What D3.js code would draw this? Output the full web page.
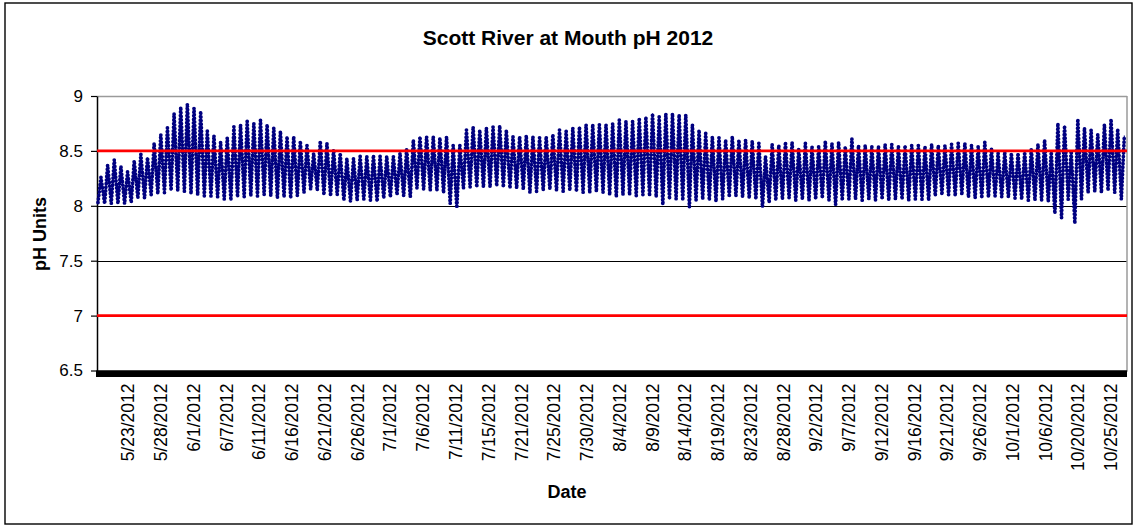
<!DOCTYPE html>
<html>
<head>
<meta charset="utf-8">
<script src="https://cdn.jsdelivr.net/npm/d3@7"></script>
<style>
  body { margin: 0; background: #fff; }
  svg { display: block; }
  text { font-family: "Liberation Sans", Arial, sans-serif; fill: #000; }
</style>
</head>
<body>
<svg id="chart" width="1135" height="525"></svg>
<script>
// Daily pH extremes, Scott River at Mouth, 2012 (one entry per logged day)
const dailyHigh = [
  8.26, 8.37, 8.42, 8.36, 8.31, 8.41, 8.47, 8.44, 8.57, 8.65, 8.71, 8.84, 8.90, 8.93, 8.89, 8.86,
  8.68, 8.64, 8.58, 8.62, 8.72, 8.74, 8.77, 8.75, 8.78, 8.74, 8.71, 8.68, 8.63, 8.63, 8.59,
  8.55, 8.48, 8.59, 8.57, 8.51, 8.48, 8.43, 8.43, 8.45, 8.45, 8.46, 8.45, 8.45, 8.45, 8.48, 8.52, 8.60,
  8.63, 8.63, 8.63, 8.62, 8.63, 8.55, 8.55, 8.69, 8.72, 8.69, 8.71, 8.72, 8.73, 8.69, 8.63,
  8.63, 8.64, 8.63, 8.62, 8.63, 8.65, 8.69, 8.68, 8.71, 8.72, 8.74, 8.74, 8.74, 8.74, 8.75, 8.78,
  8.77, 8.77, 8.80, 8.81, 8.84, 8.81, 8.84, 8.84, 8.83, 8.83, 8.74, 8.69, 8.66, 8.63, 8.62, 8.60,
  8.63, 8.60, 8.60, 8.59, 8.57, 8.45, 8.56, 8.55, 8.58, 8.58, 8.52, 8.57, 8.54, 8.54, 8.59,
  8.57, 8.58, 8.54, 8.61, 8.55, 8.55, 8.54, 8.54, 8.56, 8.56, 8.54, 8.55, 8.55, 8.55, 8.54, 8.56,
  8.55, 8.55, 8.56, 8.57, 8.57, 8.55, 8.54, 8.58, 8.52, 8.48, 8.49, 8.48, 8.48, 8.49, 8.52, 8.56,
  8.60, 8.49, 8.75, 8.73, 8.50, 8.79, 8.71, 8.69, 8.65, 8.74, 8.79, 8.70, 8.64
];
const dailyLow = [
  8.03, 8.02, 8.02, 8.02, 8.02, 8.03, 8.07, 8.07, 8.10, 8.11, 8.12, 8.14, 8.14, 8.13, 8.11, 8.10,
  8.09, 8.09, 8.08, 8.06, 8.05, 8.08, 8.08, 8.09, 8.09, 8.10, 8.09, 8.07, 8.08, 8.07, 8.09,
  8.12, 8.15, 8.14, 8.10, 8.09, 8.10, 8.05, 8.04, 8.05, 8.06, 8.05, 8.04, 8.07, 8.08, 8.10, 8.09, 8.08,
  8.16, 8.15, 8.14, 8.14, 8.12, 8.02, 7.98, 8.16, 8.17, 8.17, 8.17, 8.17, 8.18, 8.17, 8.16,
  8.16, 8.15, 8.12, 8.13, 8.14, 8.15, 8.14, 8.13, 8.14, 8.13, 8.12, 8.12, 8.13, 8.12, 8.10, 8.08,
  8.10, 8.10, 8.09, 8.10, 8.09, 8.08, 8.01, 8.06, 8.06, 8.05, 7.99, 8.05, 8.06, 8.05, 8.04, 8.06,
  8.08, 8.09, 8.08, 8.07, 8.06, 7.99, 8.03, 8.05, 8.06, 8.07, 8.05, 8.06, 8.05, 8.06, 8.07,
  8.05, 8.01, 8.05, 8.06, 8.06, 8.05, 8.06, 8.05, 8.06, 8.05, 8.06, 8.06, 8.05, 8.06, 8.06, 8.05,
  8.09, 8.10, 8.10, 8.09, 8.10, 8.08, 8.07, 8.07, 8.08, 8.09, 8.08, 8.08, 8.07, 8.06, 8.05, 8.05,
  8.05, 8.04, 7.93, 7.89, 8.06, 7.84, 8.06, 8.12, 8.13, 8.12, 8.14, 8.12, 8.06
];
const tickLabels = [
  "5/23/2012", "5/28/2012", "6/1/2012", "6/7/2012", "6/11/2012", "6/16/2012", "6/21/2012",
  "6/26/2012", "7/1/2012", "7/6/2012", "7/11/2012", "7/15/2012", "7/21/2012", "7/25/2012",
  "7/30/2012", "8/4/2012", "8/9/2012", "8/14/2012", "8/19/2012", "8/23/2012", "8/28/2012",
  "9/2/2012", "9/7/2012", "9/12/2012", "9/16/2012", "9/21/2012", "9/26/2012", "10/1/2012",
  "10/6/2012", "10/20/2012", "10/25/2012"
];
const yTickValues = [6.5, 7, 7.5, 8, 8.5, 9];
const standardLimits = [7.0, 8.5];

// Category axis settings: a label every fixed number of readings
const firstLabelDay = 4.6;
const labelEveryDays = 4.93;
// Time of day (fraction) of the morning low and afternoon high
const lowAt = 0.15, highAt = 0.6;

const svg = d3.select("#chart");
const plot = { left: 97, right: 1127, top: 96, bottom: 370.5 };

const x = d3.scaleLinear().domain([0, dailyHigh.length]).range([plot.left, plot.right]);
const y = d3.scaleLinear().domain([6.5, 9]).range([plot.bottom, plot.top]);

// Outer chart frame
svg.append("rect").attr("x", 5).attr("y", 3).attr("width", 1127).attr("height", 521)
  .attr("fill", "#fff").attr("stroke", "#000").attr("stroke-width", 1.4);

// Title and axis titles
svg.append("text").attr("x", 568).attr("y", 45).attr("text-anchor", "middle")
  .style("font-weight", "bold").style("font-size", "21px").text("Scott River at Mouth pH 2012");
svg.append("text").attr("transform", "translate(46,234) rotate(-90)").attr("text-anchor", "middle")
  .style("font-weight", "bold").style("font-size", "18px").text("pH Units");
svg.append("text").attr("x", 567).attr("y", 498).attr("text-anchor", "middle")
  .style("font-weight", "bold").style("font-size", "18px").text("Date");

// Horizontal gridlines
svg.append("g").selectAll("line").data(yTickValues.filter(v => v > 6.5)).join("line")
  .attr("x1", plot.left).attr("x2", plot.right)
  .attr("y1", d => Math.round(y(d)) + 0.5).attr("y2", d => Math.round(y(d)) + 0.5)
  .attr("stroke", d => d === 9 ? "#9a9a9a" : "#000").attr("stroke-width", d => d === 9 ? 1.5 : 1);

// Plot area right edge
svg.append("line").attr("x1", plot.right).attr("x2", plot.right)
  .attr("y1", plot.top).attr("y2", plot.bottom).attr("stroke", "#9a9a9a").attr("stroke-width", 1.5);

// Y axis
const yAxis = d3.axisLeft(y).tickValues(yTickValues).tickSizeInner(6).tickSizeOuter(0)
  .tickFormat(d => d3.format("")(d));
const gy = svg.append("g").attr("transform", `translate(${plot.left},0)`).call(yAxis);
gy.select(".domain").attr("stroke", "#000").attr("stroke-width", 1.5);
gy.selectAll(".tick line").attr("stroke", "#000").attr("stroke-width", 1.2);
gy.selectAll(".tick text").attr("x", -14).style("font-size", "17px")
  .style("font-family", "'Liberation Sans', Arial, sans-serif").attr("fill", "#000");

// Measurement series: alternating morning lows and afternoon highs
const readings = [];
dailyLow.forEach((lo, i) => {
  readings.push({ t: i + lowAt, v: lo });
  readings.push({ t: i + highAt, v: dailyHigh[i] });
});
const line = d3.line().x(d => x(d.t)).y(d => y(d.v));
svg.append("path").datum(readings).attr("d", line)
  .attr("fill", "none").attr("stroke", "#000080").attr("stroke-width", 1.1);
svg.append("path").datum(readings).attr("d", line)
  .attr("fill", "none").attr("stroke", "#000080").attr("stroke-width", 3.8)
  .attr("stroke-linecap", "round").attr("stroke-dasharray", "0 3.6");

// Water-quality limit lines
svg.append("g").selectAll("line").data(standardLimits).join("line")
  .attr("x1", plot.left).attr("x2", plot.right)
  .attr("y1", d => y(d)).attr("y2", d => y(d))
  .attr("stroke", "#ff0000").attr("stroke-width", 2.6);

// X axis: dense per-reading tick marks merge into a solid band
const labelDays = tickLabels.map((_, k) => firstLabelDay + k * labelEveryDays);
const xAxis = d3.axisBottom(x).tickValues(labelDays).tickSize(0)
  .tickFormat((d, k) => tickLabels[k]);
const gx = svg.append("g").attr("transform", `translate(0,${plot.bottom})`).call(xAxis);
gx.select(".domain").attr("stroke", "#000").attr("stroke-width", 1);
gx.insert("rect", ":first-child").attr("x", plot.left - 1).attr("y", 0)
  .attr("width", plot.right - plot.left + 1).attr("height", 6.5).attr("fill", "#000");
gx.selectAll(".tick text")
  .attr("transform", "rotate(-90)")
  .attr("x", -13).attr("y", 0).attr("dy", "0.36em")
  .attr("text-anchor", "end")
  .style("font-size", "17.5px")
  .style("font-family", "'Liberation Sans', Arial, sans-serif").attr("fill", "#000");
</script>
</body>
</html>
